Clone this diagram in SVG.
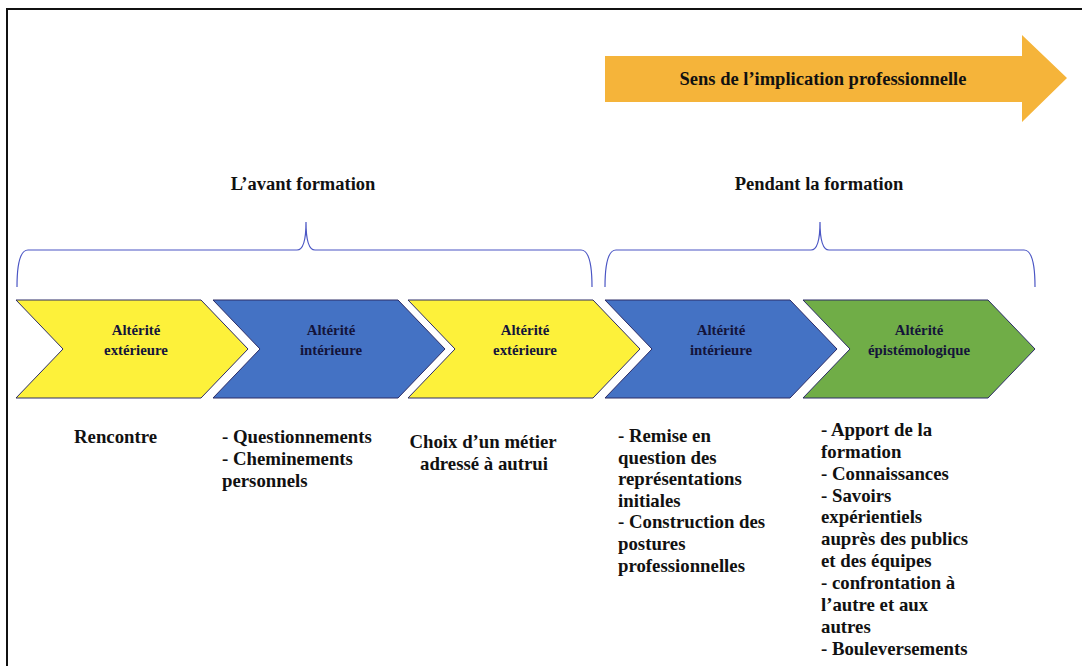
<svg xmlns="http://www.w3.org/2000/svg" width="1082" height="666" viewBox="0 0 1082 666">
<style>
.t{font-family:'Liberation Serif',Tinos,'Times New Roman','DejaVu Serif',serif;font-weight:bold;fill:#111}
.h{font-size:18.5px}
.c{font-size:14.8px;fill:#14143a;text-anchor:middle}
.b{font-size:18.8px}
.chev{stroke:#2c2c66;stroke-width:1}
.y{fill:#fdf13a}.bl{fill:#4472c4}.g{fill:#70ad47}
.brace{fill:none;stroke:#4a55c4;stroke-width:1.2}
</style>
<rect width="1082" height="666" fill="#fff"/>
<path d="M7,666 L7,9 L1082,9" fill="none" stroke="#111" stroke-width="2"/>
<g id="sens-arrow">
<path d="M605,56 L1022,56 L1022,35 L1067,78 L1022,122 L1022,102 L605,102 Z" fill="#f5b43a"/>
<text class="t h" x="823" y="85" text-anchor="middle">Sens de l’implication professionnelle</text>
</g>
<g id="header-avant"><text class="t h" x="303" y="190" text-anchor="middle">L’avant formation</text></g>
<g id="header-pendant"><text class="t h" x="819" y="190" text-anchor="middle">Pendant la formation</text></g>
<g id="connectors">
<path class="brace" d="M17,287 Q17,250 28,250 L297,250 Q306,250 306,222 Q306,250 315,250 L581,250 Q592,250 592,287"/>
<path class="brace" d="M605,287 Q605,250 616,250 L811,250 Q820,250 820,222 Q820,250 829,250 L1024,250 Q1035,250 1035,287"/>
</g>
<g id="chev1">
<path class="chev y" d="M16,300 L201,300 L248,349 L201,398 L16,398 L63,349 Z"/>
<text class="t c" x="136" y="335">Altérité</text>
<text class="t c" x="136" y="355">extérieure</text>
</g>
<g id="chev2">
<path class="chev bl" d="M213,300 L398,300 L445,349 L398,398 L213,398 L260,349 Z"/>
<text class="t c" x="331" y="335">Altérité</text>
<text class="t c" x="331" y="355">intérieure</text>
</g>
<g id="chev3">
<path class="chev y" d="M408,300 L593,300 L640,349 L593,398 L408,398 L455,349 Z"/>
<text class="t c" x="525" y="335">Altérité</text>
<text class="t c" x="525" y="355">extérieure</text>
</g>
<g id="chev4">
<path class="chev bl" d="M605,300 L790,300 L837,349 L790,398 L605,398 L652,349 Z"/>
<text class="t c" x="721" y="335">Altérité</text>
<text class="t c" x="721" y="355">intérieure</text>
</g>
<g id="chev5">
<path class="chev g" d="M803,300 L988,300 L1035,349 L988,398 L803,398 L850,349 Z"/>
<text class="t c" x="919" y="335">Altérité</text>
<text class="t c" x="919" y="355">épistémologique</text>
</g>
<g id="desc1"><text class="t b" x="74" y="443">Rencontre</text></g>
<g id="desc2">
<text class="t b" x="222" y="443">- Questionnements</text>
<text class="t b" x="222" y="465">- Cheminements</text>
<text class="t b" x="222" y="487">personnels</text>
</g>
<g id="desc3">
<text class="t b" x="483" y="448" text-anchor="middle">Choix d’un métier</text>
<text class="t b" x="484" y="470" text-anchor="middle">adressé à autrui</text>
</g>
<g id="desc4">
<text class="t b" x="618" y="442">- Remise en</text>
<text class="t b" x="618" y="464">question des</text>
<text class="t b" x="618" y="485">représentations</text>
<text class="t b" x="618" y="507">initiales</text>
<text class="t b" x="618" y="528">- Construction des</text>
<text class="t b" x="618" y="550">postures</text>
<text class="t b" x="618" y="572">professionnelles</text>
</g>
<g id="desc5">
<text class="t b" x="821" y="436">- Apport de la</text>
<text class="t b" x="821" y="458">formation</text>
<text class="t b" x="821" y="480">- Connaissances</text>
<text class="t b" x="821" y="502">- Savoirs</text>
<text class="t b" x="821" y="523">expérientiels</text>
<text class="t b" x="821" y="545">auprès des publics</text>
<text class="t b" x="821" y="567">et des équipes</text>
<text class="t b" x="821" y="589">- confrontation à</text>
<text class="t b" x="821" y="611">l’autre et aux</text>
<text class="t b" x="821" y="633">autres</text>
<text class="t b" x="821" y="655">- Bouleversements</text>
</g>
</svg>
